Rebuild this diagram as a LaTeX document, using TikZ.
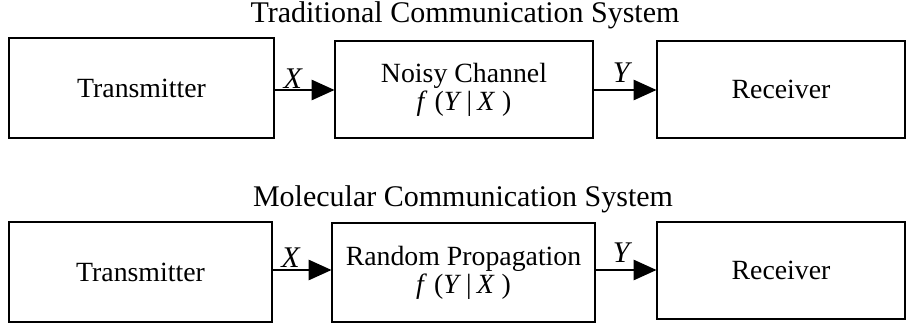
\documentclass[tikz,border=0pt]{standalone}
\usepackage{fontspec}
\setmainfont{Liberation Serif}
\usetikzlibrary{arrows.meta}
\tikzset{
  blk/.style={draw, line width=2.8pt, inner sep=0pt, align=center,
    font=\fontsize{27.8}{28}\selectfont},
  ttl/.style={inner sep=0pt, font=\fontsize{30}{32}\selectfont},
  sig/.style={inner sep=0pt, anchor=base, font=\fontsize{30}{32}\selectfont\itshape},
  con/.style={line width=2.8pt, -{Triangle[length=23pt,width=20pt]}, shorten >=-1pt}
}
\newcommand{\fyx}{\textit{f}\kern7pt(\textit{Y}\kern5pt|\kern5pt\textit{X}\kern7pt)}
\begin{document}
\begin{tikzpicture}[x=1pt,y=-1pt]
\useasboundingbox (0,0) rectangle (906,324);
\newcommand{\blkbox}[6]{%
  \node[blk, minimum width=#4-#2, minimum height=#5-#3] (#1) at ({(#2+#4)/2},{(#3+#5)/2}) {#6};}
% top row
\node[ttl, anchor=base] (title1) at (465,23) {Traditional Communication System};
\blkbox{t1}{9}{38}{274}{138}{Transmitter}
\blkbox{c1}{335}{41}{593}{138}{Noisy Channel\\[0pt]\fyx}
\blkbox{r1}{657}{41}{905}{138}{Receiver}
\draw[con] (t1.east |- 0,90) -- node[sig, pos=.3, yshift=2pt] (x1) {X} (c1.west |- 0,90);
\draw[con] (c1.east |- 0,90) -- node[sig, pos=.44, yshift=8pt] (y1) {Y} (r1.west |- 0,90);
% bottom row
\node[ttl, anchor=base] (title2) at (463,206) {Molecular Communication System};
\blkbox{t2}{9}{222}{272}{322}{Transmitter}
\blkbox{c2}{332}{223}{595}{322}{Random Propagation\\[0pt]\fyx}
\blkbox{r2}{657}{222}{905}{319}{Receiver}
\draw[con] (t2.east |- 0,270) -- node[sig, pos=.3, yshift=3pt] (x2) {X} (c2.west |- 0,270);
\draw[con] (c2.east |- 0,270) -- node[sig, pos=.42, yshift=8pt] (y2) {Y} (r2.west |- 0,270);
\end{tikzpicture}
\end{document}
